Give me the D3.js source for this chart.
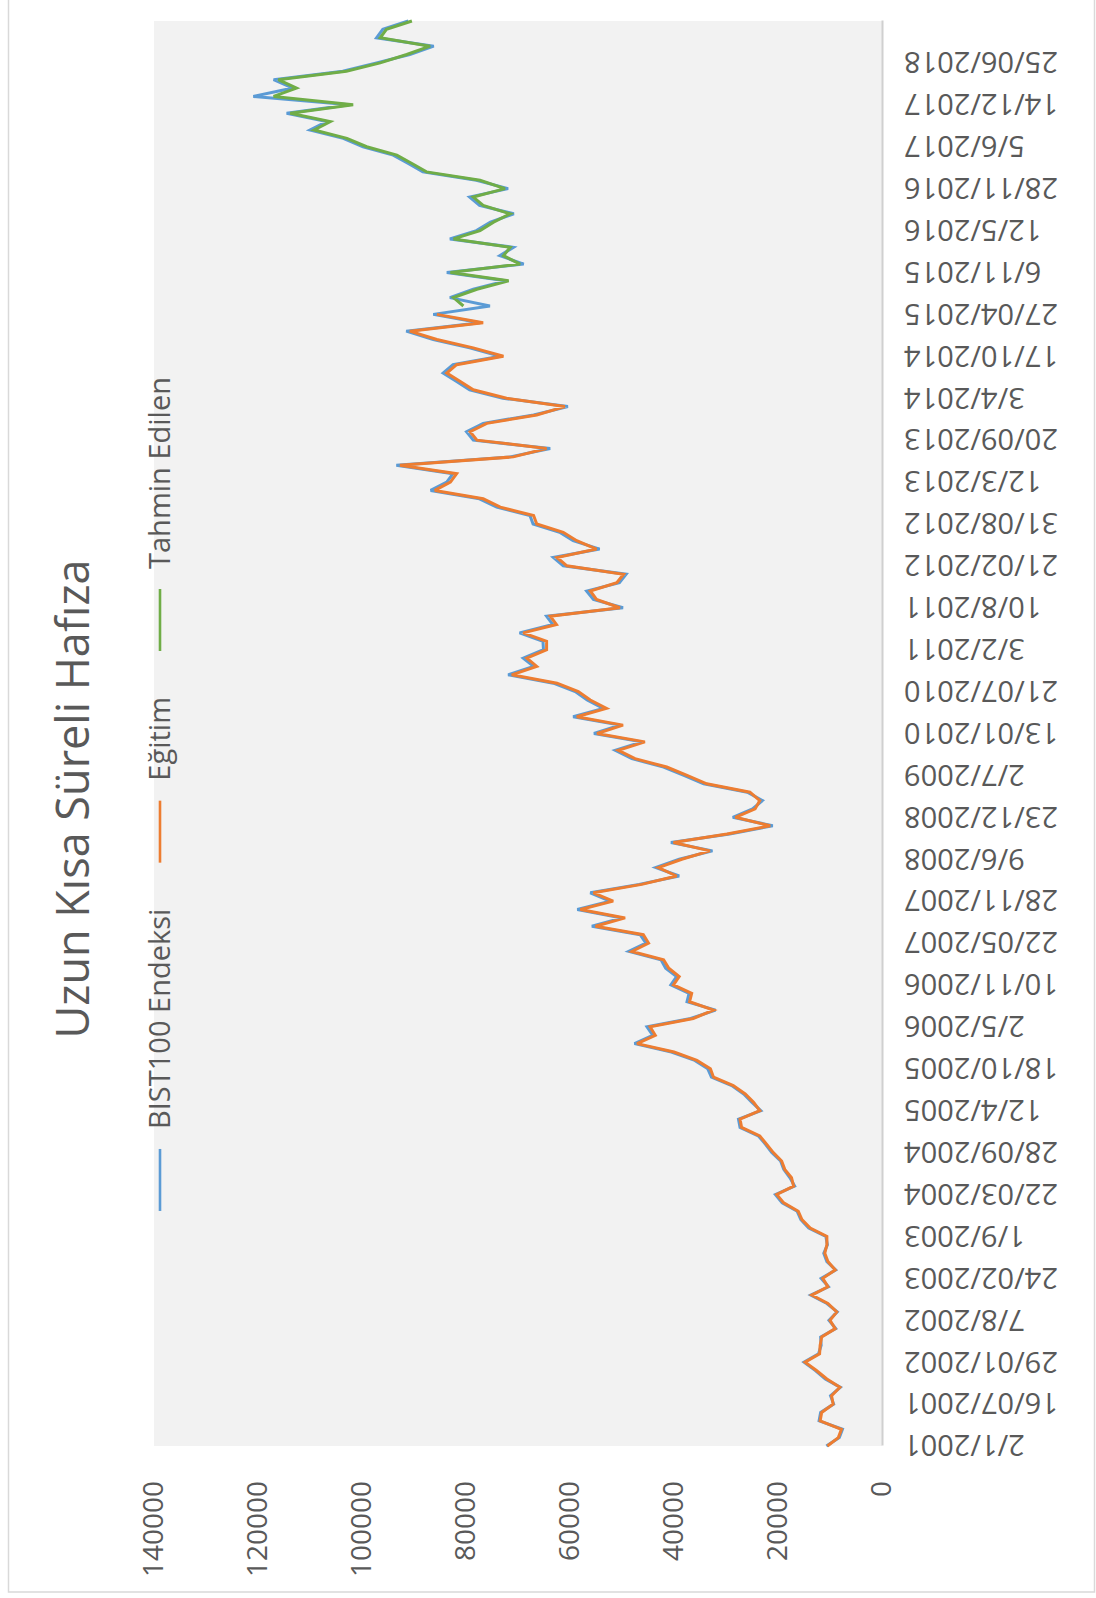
<!DOCTYPE html>
<html>
<head>
<meta charset="utf-8">
<script src="https://cdn.jsdelivr.net/npm/d3@7"></script>
<style>
  body { margin: 0; background: #ffffff; }
  svg { display: block; }
  text { font-family: "Open Sans", sans-serif; fill: #595959; }
</style>
</head>
<body>
<svg id="chart" width="1096" height="1598"></svg>
<script>
// Category labels, one every `labelStep` trading-day samples
const dateLabels = ["2/1/2001","16/07/2001","29/01/2002","7/8/2002","24/02/2003","1/9/2003",
  "22/03/2004","28/09/2004","12/4/2005","18/10/2005","2/5/2006","10/11/2006","22/05/2007",
  "28/11/2007","9/6/2008","23/12/2008","2/7/2009","13/01/2010","21/07/2010","3/2/2011",
  "10/8/2011","21/02/2012","31/08/2012","12/3/2013","20/09/2013","3/4/2014","17/10/2014",
  "27/04/2015","6/11/2015","12/5/2016","28/11/2016","5/6/2017","14/12/2017","25/06/2018"];
const labelStep = 5;

// Actual index values (samples 0..170)
const bist = [10700, 8200, 7600, 12100, 11800, 9300, 9900, 8000, 10900, 12800,
 15000, 12200, 11700, 11800, 8900, 10200, 8600, 10600, 13700, 10300,
 11700, 8900, 10600, 11200, 10500, 10800, 14100, 15600, 16300, 19200,
 20500, 16800, 17700, 18900, 19500, 21200, 22400, 23800, 27300, 27600,
 23300, 25000, 26600, 28900, 32800, 33500, 36000, 40500, 47600, 44100,
 45200, 36800, 32000, 37500, 37100, 40600, 39500, 41600, 42500, 48700,
 45400, 46500, 55800, 50000, 58600, 52300, 56100, 46700, 39000, 43500,
 39000, 32600, 40600, 29300, 21000, 28700, 24900, 23000, 25900, 34300,
 38100, 42000, 48100, 51300, 46200, 55400, 50400, 59400, 53600, 56700,
 59000, 63200, 71900, 67000, 69000, 65100, 65200, 69700, 63300, 64500,
 49800, 55500, 56800, 50500, 49200, 61300, 63200, 54300, 59400, 62000,
 67100, 67700, 74100, 77400, 86800, 83700, 82500, 93400, 71500, 63800,
 78600, 79900, 76700, 67000, 60400, 72900, 79300, 81800, 84400, 82500,
 73400, 79300, 86300, 91500, 77300, 86300, 75400, 83100, 78600, 72400,
 83700, 68900, 73500, 70900, 83100, 78000, 75300, 70800, 77400, 79300,
 71900, 78000, 88300, 91100, 94000, 99800, 103600, 110000, 106800, 114500,
 102400, 120900, 113300, 117000, 103700, 97200, 90800, 86200, 97200, 96000,
 91100];

// Fitted values on the training period (samples 0..135)
const egitim = [10500, 8400, 7800, 11900, 11600, 9400, 9700, 8100, 10600, 12600,
 14800, 12000, 11900, 11600, 9000, 10000, 8700, 10400, 13500, 10400,
 11400, 9000, 10400, 11000, 10600, 10600, 13800, 15400, 16100, 18900,
 20250, 17000, 17400, 18700, 19300, 20900, 22200, 23500, 27000, 27300,
 23500, 24700, 26300, 28600, 32400, 33000, 35600, 40000, 47100, 43600,
 44600, 36300, 32400, 37000, 36600, 40100, 39000, 41000, 42000, 48100,
 44900, 45900, 55100, 49400, 58000, 51700, 55500, 46200, 39500, 43000,
 38500, 33100, 40100, 29800, 21500, 28200, 24400, 23500, 25400, 33700,
 37500, 41400, 47500, 50700, 45600, 54800, 49800, 58700, 53000, 56100,
 58400, 62500, 71200, 66400, 68300, 64500, 64500, 69000, 62600, 63800,
 50400, 54900, 56100, 51000, 49700, 60600, 62500, 54900, 58700, 61300,
 66400, 67000, 73400, 76700, 86000, 83000, 81800, 92700, 70900, 64500,
 77900, 79200, 76000, 66400, 61000, 72200, 78600, 81100, 83700, 81800,
 72800, 78600, 85600, 90800, 76700, 85600];

// Forecast values on the test period (samples 136..170)
const tahminStart = 136;
const tahmin = [80500, 82400, 77900, 71800, 83000, 69600, 72800, 71500, 82400, 77300,
 74700, 71500, 76700, 78600, 72500, 77300, 87600, 90400, 93300, 99100,
 102900, 109200, 106100, 113800, 101700, 117000, 112600, 116100, 103000, 96500,
 91400, 86900, 96500, 95300, 90400];

const seriesNames = ["BIST100 Endeksi", "Eğitim", "Tahmin Edilen"];
const seriesColors = ["#5b9bd5", "#ed7d31", "#70ad47"];
const valueTicks = [0, 20000, 40000, 60000, 80000, 100000, 120000, 140000];
const title = "Uzun Kısa Süreli Hafıza";

const svg = d3.select("#chart");

// Light frame around the chart area
svg.append("rect")
  .attr("x", 8.5).attr("y", -2).attr("width", 1086).attr("height", 1594)
  .attr("fill", "none").attr("stroke", "#d9d9d9").attr("stroke-width", 1.5);

// The chart is laid out landscape and turned a quarter turn counter-clockwise
const g = svg.append("g").attr("transform", `translate(0,${1598}) rotate(-90)`);

const plot = { left: 152, right: 1577, top: 154, bottom: 882 };
const nSamples = bist.length;

const x = d3.scaleLinear().domain([0, nSamples - 1]).range([plot.left, plot.right]);
const y = d3.scaleLinear().domain([0, 140000]).range([plot.bottom, plot.top]);

g.append("rect")
  .attr("x", plot.left).attr("y", plot.top)
  .attr("width", plot.right - plot.left).attr("height", plot.bottom - plot.top)
  .attr("fill", "#f2f2f2");

// Value axis
const yAxis = g.append("g")
  .attr("transform", `translate(${plot.left},0)`)
  .call(d3.axisLeft(y).tickValues(valueTicks).tickSize(0).tickPadding(35).tickFormat(d3.format("d")));
yAxis.select(".domain").remove();
yAxis.selectAll("text").style("font-size", "28px").attr("fill", "#595959")
  .style("font-family", "\"Open Sans\", sans-serif");

// Category axis
const xAxis = g.append("g")
  .attr("transform", `translate(0,${plot.bottom})`)
  .call(d3.axisBottom(x)
    .tickValues(dateLabels.map((d, i) => i * labelStep))
    .tickFormat((d, i) => dateLabels[i])
    .tickSize(0));
xAxis.select(".domain").attr("stroke", "#d0d0d0").attr("stroke-width", 2);
xAxis.selectAll("text")
  .attr("transform", "rotate(-90)")
  .attr("x", -22).attr("y", 0).attr("dy", "0.35em")
  .attr("text-anchor", "end")
  .attr("fill", "#595959")
  .style("font-size", "29px")
  .style("font-family", "\"Open Sans\", sans-serif");

// Series lines
const line = d3.line().x(d => x(d.i)).y(d => y(d.v));
const seriesData = [
  bist.map((v, i) => ({ i, v })),
  egitim.map((v, i) => ({ i, v })),
  tahmin.map((v, k) => ({ i: tahminStart + k, v }))
];
seriesData.forEach((data, s) => {
  g.append("path")
    .datum(data)
    .attr("d", line)
    .attr("fill", "none")
    .attr("stroke", seriesColors[s])
    .attr("stroke-width", 3)
    .attr("stroke-linejoin", "miter")
    .attr("stroke-miterlimit", 3);
});

// Title
g.append("text")
  .attr("x", 799).attr("y", 89)
  .attr("text-anchor", "middle")
  .style("font-size", "45px")
  .text(title);

// Legend in one row, centred under the title
const legend = g.append("g").attr("transform", "translate(0,160)");
const swatchLen = 62, textGap = 20, itemGap = 46;
const items = seriesNames.map((name, s) => {
  const it = legend.append("g");
  it.append("line").attr("x1", 0).attr("x2", swatchLen).attr("y1", 0).attr("y2", 0)
    .attr("stroke", seriesColors[s]).attr("stroke-width", 2.6);
  const t = it.append("text").attr("x", swatchLen + textGap).attr("y", 10)
    .style("font-size", "29px").text(name);
  const w = swatchLen + textGap + t.node().getComputedTextLength();
  return { it, w };
});
const totalW = d3.sum(items, d => d.w) + itemGap * (items.length - 1);
let cursor = 804 - totalW / 2;
items.forEach(d => {
  d.it.attr("transform", `translate(${cursor},0)`);
  cursor += d.w + itemGap;
});
</script>
</body>
</html>
